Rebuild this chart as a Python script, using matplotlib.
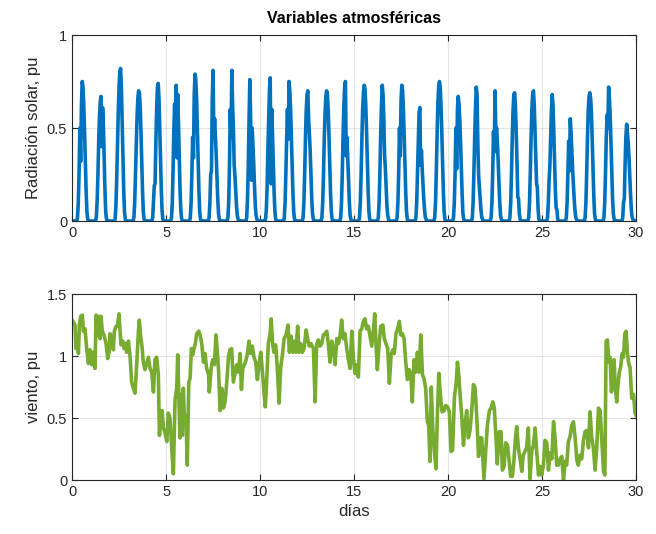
import numpy as np
import matplotlib.pyplot as plt

solar_hours = list(range(7, 22))
solar_days = [
    [0.02, 0.10, 0.26, 0.50, 0.32, 0.62, 0.75, 0.72, 0.62, 0.48, 0.32, 0.16, 0.05, 0.01, 0],
    [0.02, 0.10, 0.24, 0.42, 0.56, 0.64, 0.67, 0.40, 0.61, 0.52, 0.34, 0.17, 0.05, 0.01, 0],
    [0.01, 0.08, 0.22, 0.40, 0.58, 0.72, 0.80, 0.82, 0.72, 0.54, 0.34, 0.16, 0.05, 0.01, 0],
    [0.02, 0.10, 0.25, 0.42, 0.56, 0.66, 0.70, 0.69, 0.62, 0.48, 0.32, 0.16, 0.05, 0.01, 0],
    [0.02, 0.10, 0.19, 0.20, 0.42, 0.60, 0.72, 0.74, 0.66, 0.50, 0.33, 0.16, 0.05, 0.01, 0],
    [0.02, 0.10, 0.28, 0.50, 0.63, 0.35, 0.73, 0.34, 0.68, 0.50, 0.32, 0.15, 0.05, 0.01, 0],
    [0.02, 0.10, 0.26, 0.45, 0.34, 0.68, 0.79, 0.76, 0.66, 0.50, 0.33, 0.16, 0.05, 0.01, 0],
    [0.02, 0.10, 0.25, 0.27, 0.65, 0.81, 0.45, 0.55, 0.46, 0.36, 0.24, 0.12, 0.04, 0.01, 0],
    [0.02, 0.10, 0.30, 0.60, 0.45, 0.81, 0.62, 0.50, 0.30, 0.24, 0.16, 0.08, 0.03, 0.01, 0],
    [0.02, 0.12, 0.30, 0.55, 0.76, 0.55, 0.22, 0.50, 0.40, 0.30, 0.18, 0.08, 0.03, 0.01, 0],
    [0.01, 0.06, 0.18, 0.38, 0.55, 0.70, 0.77, 0.20, 0.60, 0.45, 0.30, 0.15, 0.05, 0.01, 0],
    [0.02, 0.10, 0.26, 0.45, 0.60, 0.44, 0.75, 0.70, 0.60, 0.45, 0.30, 0.15, 0.05, 0.01, 0],
    [0.02, 0.10, 0.26, 0.45, 0.60, 0.68, 0.70, 0.55, 0.47, 0.38, 0.25, 0.12, 0.04, 0.01, 0],
    [0.02, 0.10, 0.25, 0.44, 0.58, 0.67, 0.70, 0.68, 0.60, 0.46, 0.30, 0.15, 0.05, 0.01, 0],
    [0.02, 0.10, 0.26, 0.46, 0.62, 0.72, 0.75, 0.35, 0.45, 0.34, 0.22, 0.10, 0.03, 0.01, 0],
    [0.02, 0.10, 0.25, 0.44, 0.60, 0.69, 0.73, 0.71, 0.62, 0.48, 0.32, 0.16, 0.05, 0.01, 0],
    [0.02, 0.10, 0.26, 0.46, 0.62, 0.73, 0.68, 0.55, 0.35, 0.28, 0.18, 0.08, 0.03, 0.01, 0],
    [0.02, 0.10, 0.26, 0.50, 0.35, 0.65, 0.73, 0.70, 0.60, 0.46, 0.30, 0.15, 0.05, 0.01, 0],
    [0.02, 0.10, 0.26, 0.44, 0.58, 0.61, 0.30, 0.38, 0.28, 0.20, 0.12, 0.06, 0.02, 0.01, 0],
    [0.02, 0.10, 0.26, 0.46, 0.63, 0.72, 0.75, 0.72, 0.62, 0.48, 0.32, 0.16, 0.05, 0.01, 0],
    [0.02, 0.10, 0.26, 0.50, 0.28, 0.60, 0.67, 0.63, 0.54, 0.42, 0.28, 0.14, 0.04, 0.01, 0],
    [0.02, 0.10, 0.26, 0.45, 0.60, 0.72, 0.68, 0.42, 0.25, 0.18, 0.12, 0.06, 0.02, 0.01, 0],
    [0.02, 0.10, 0.26, 0.48, 0.37, 0.70, 0.47, 0.50, 0.42, 0.32, 0.20, 0.10, 0.03, 0.01, 0],
    [0.02, 0.10, 0.26, 0.45, 0.60, 0.68, 0.69, 0.62, 0.48, 0.32, 0.13, 0.12, 0.04, 0.01, 0],
    [0.02, 0.10, 0.26, 0.45, 0.60, 0.68, 0.70, 0.63, 0.48, 0.32, 0.20, 0.18, 0.06, 0.01, 0],
    [0.02, 0.10, 0.22, 0.30, 0.45, 0.60, 0.68, 0.62, 0.48, 0.32, 0.16, 0.07, 0.06, 0.01, 0],
    [0.02, 0.10, 0.26, 0.43, 0.27, 0.55, 0.48, 0.38, 0.28, 0.20, 0.12, 0.06, 0.02, 0.01, 0],
    [0.02, 0.10, 0.26, 0.45, 0.60, 0.67, 0.69, 0.66, 0.58, 0.44, 0.28, 0.14, 0.04, 0.01, 0],
    [0.02, 0.10, 0.26, 0.45, 0.57, 0.50, 0.72, 0.66, 0.56, 0.42, 0.26, 0.12, 0.04, 0.01, 0],
    [0.02, 0.10, 0.12, 0.30, 0.45, 0.52, 0.47, 0.42, 0.34, 0.24, 0.14, 0.06, 0.02, 0.01, 0],
]

# viento: (dia, valor)
wind_t = [
    0.00, 0.16, 0.21, 0.28, 0.34, 0.39, 0.46, 0.55, 0.60, 0.69, 0.78, 0.87, 0.96, 1.05, 1.13,
    1.22, 1.28, 1.35, 1.42, 1.49, 1.54, 1.61, 1.70, 1.81, 1.90, 1.97, 2.02, 2.11, 2.20, 2.25,
    2.34, 2.41, 2.50, 2.55, 2.61, 2.70, 2.77, 2.84, 2.91, 3.00, 3.09, 3.17, 3.26, 3.35, 3.44,
    3.53, 3.58, 3.65, 3.72, 3.79, 3.88, 3.97, 4.06, 4.15, 4.24, 4.33, 4.41, 4.50, 4.59, 4.65,
    4.72, 4.79, 4.86, 4.95, 5.04, 5.12, 5.21, 5.30, 5.39, 5.48, 5.57, 5.62, 5.69, 5.74, 5.80,
    5.87, 5.92, 5.99, 6.06, 6.13, 6.21, 6.28, 6.35, 6.42, 6.49, 6.56, 6.63, 6.74, 6.81, 6.90,
    6.99, 7.07, 7.16, 7.26, 7.30, 7.40, 7.48, 7.57, 7.66, 7.73, 7.80, 7.87, 7.96, 8.05, 8.14,
    8.23, 8.32, 8.40, 8.49, 8.58, 8.67, 8.76, 8.85, 8.94, 9.01, 9.08, 9.17, 9.26, 9.34, 9.41,
    9.50, 9.59, 9.68, 9.77, 9.86, 9.95, 10.04, 10.13, 10.21, 10.28, 10.35, 10.44, 10.53, 10.59,
    10.67, 10.74, 10.83, 10.92, 11.01, 11.10, 11.19, 11.28, 11.38, 11.49, 11.56, 11.65, 11.74,
    11.83, 11.91, 12.00, 12.07, 12.16, 12.25, 12.34, 12.45, 12.53, 12.62, 12.71, 12.84, 12.93,
    13.01, 13.10, 13.19, 13.28, 13.37, 13.46, 13.55, 13.63, 13.72, 13.81, 13.90, 13.99, 14.08,
    14.17, 14.26, 14.34, 14.43, 14.52, 14.61, 14.70, 14.79, 14.88, 14.96, 15.05, 15.14, 15.23,
    15.32, 15.41, 15.50, 15.58, 15.67, 15.76, 15.85, 15.94, 16.03, 16.10, 16.17, 16.24, 16.33,
    16.42, 16.53, 16.61, 16.70, 16.79, 16.88, 16.97, 17.06, 17.14, 17.23, 17.32, 17.41, 17.48,
    17.57, 17.66, 17.75, 17.84, 17.93, 18.02, 18.10, 18.19, 18.28, 18.37, 18.46, 18.55, 18.64,
    18.72, 18.81, 18.90, 18.97, 19.04, 19.11, 19.18, 19.27, 19.36, 19.43, 19.51, 19.59, 19.68,
    19.79, 19.87, 19.98, 20.07, 20.16, 20.24, 20.34, 20.43, 20.50, 20.57, 20.64, 20.73, 20.82,
    20.90, 20.99, 21.08, 21.17, 21.26, 21.35, 21.44, 21.53, 21.62, 21.70, 21.79, 21.91, 22.02,
    22.09, 22.20, 22.29, 22.38, 22.46, 22.55, 22.62, 22.73, 22.82, 22.89, 22.98, 23.07, 23.16,
    23.24, 23.33, 23.42, 23.50, 23.57, 23.65, 23.74, 23.83, 23.92, 24.00, 24.09, 24.18, 24.27,
    24.36, 24.45, 24.54, 24.63, 24.72, 24.81, 24.89, 24.98, 25.07, 25.16, 25.25, 25.34, 25.43,
    25.52, 25.61, 25.69, 25.78, 25.87, 25.96, 26.05, 26.14, 26.23, 26.31, 26.40, 26.49, 26.58,
    26.67, 26.76, 26.85, 26.93, 27.02, 27.11, 27.20, 27.29, 27.38, 27.47, 27.55, 27.64, 27.73,
    27.82, 27.91, 28.00, 28.09, 28.18, 28.27, 28.34, 28.41, 28.48, 28.55, 28.62, 28.69, 28.76,
    28.83, 28.90, 28.97, 29.04, 29.11, 29.18, 29.26, 29.33, 29.40, 29.47, 29.54, 29.61, 29.68,
    29.77, 29.86, 29.95, 30.00,
]
wind_v = [
    1.29, 1.25, 1.06, 1.14, 1.02, 1.25, 1.32, 1.33, 1.20, 1.22, 1.06, 0.94, 1.05, 0.93, 1.03,
    0.90, 1.33, 1.17, 1.32, 1.14, 1.32, 1.20, 1.17, 1.10, 0.98, 1.03, 1.18, 1.14, 1.05, 1.20,
    1.24, 1.24, 1.34, 1.21, 1.09, 1.12, 1.06, 1.10, 1.03, 1.12, 0.99, 0.79, 0.74, 0.70, 0.93,
    1.20, 1.29, 1.16, 1.08, 0.95, 0.89, 0.94, 0.99, 0.90, 0.87, 0.71, 0.97, 0.99, 0.85, 0.36,
    0.55, 0.56, 0.42, 0.38, 0.31, 0.54, 0.50, 0.26, 0.05, 0.65, 0.74, 1.01, 0.63, 0.34, 0.69,
    0.36, 0.74, 0.44, 0.52, 0.12, 0.79, 0.82, 1.06, 1.01, 1.06, 1.10, 1.18, 1.20, 1.17, 1.10,
    0.95, 1.02, 0.90, 0.85, 0.71, 0.90, 0.97, 0.93, 1.17, 1.03, 0.87, 0.56, 0.74, 0.58, 0.63,
    0.79, 0.99, 1.05, 1.06, 0.79, 0.86, 0.93, 0.87, 1.02, 0.73, 0.90, 0.93, 0.97, 1.03, 1.12,
    1.02, 1.08, 0.99, 0.95, 0.81, 0.94, 1.03, 0.87, 0.71, 0.59, 0.79, 1.10, 1.17, 1.30,
    1.10, 1.03, 1.09, 0.90, 0.62, 0.91, 1.01, 1.14, 1.17, 1.25, 1.03, 1.16, 1.03,
    1.12, 1.03, 1.24, 1.03, 1.10, 1.03, 1.06, 1.21, 1.14, 1.08, 1.10, 1.06, 0.63,
    1.09, 1.13, 1.08, 1.10, 1.17, 1.18, 1.20, 1.10, 0.95, 1.12, 1.06, 0.93, 1.14,
    1.10, 1.17, 1.29, 1.14, 1.18, 1.06, 0.97, 0.90, 1.20, 0.99, 0.86, 0.93, 0.83,
    1.20, 1.22, 1.28, 1.30, 1.22, 1.24, 1.16, 1.08, 1.21, 1.34, 1.09, 0.89, 1.09,
    1.24, 1.25, 1.14, 1.10, 1.06, 0.78, 1.01, 1.05, 1.02, 1.18, 1.22, 1.28, 1.17,
    1.18, 1.14, 0.95, 0.81, 0.89, 0.85, 0.63, 0.97, 0.87, 1.03, 0.87, 1.17, 0.85,
    0.82, 0.74, 0.47, 0.44, 0.15, 0.75, 0.44, 0.23, 0.09, 0.52, 0.86, 0.69, 0.55,
    0.56, 0.60, 0.59, 0.55, 0.23, 0.24, 0.67, 0.78, 0.95, 0.85, 0.69, 0.51, 0.28,
    0.44, 0.56, 0.34, 0.40, 0.56, 0.77, 0.74, 0.50, 0.19, 0.34, 0.34, 0.01, 0.28,
    0.44, 0.56, 0.58, 0.63, 0.58, 0.34, 0.13, 0.39, 0.39, 0.08, 0.11, 0.30, 0.28,
    0.17, 0.03, 0.03, 0.15, 0.31, 0.43, 0.26, 0.17, 0.07, 0.20, 0.23, 0.26, 0.42,
    0.01, 0.23, 0.28, 0.42, 0.22, 0.04, 0.11, 0.04, 0.12, 0.32, 0.30, 0.08, 0.22,
    0.17, 0.47, 0.34, 0.12, 0.12, 0.17, 0.19, 0.00, 0.15, 0.12, 0.31, 0.35, 0.44,
    0.47, 0.34, 0.16, 0.12, 0.20, 0.17, 0.32, 0.39, 0.40, 0.26, 0.55, 0.35, 0.26,
    0.08, 0.26, 0.58, 0.56, 0.31, 0.07, 0.04, 1.12, 1.13, 0.95, 0.99, 0.71, 0.82,
    0.97, 0.74, 0.63, 0.77, 0.87, 0.91, 1.02, 0.99, 1.18, 1.20, 1.03, 0.94, 0.91,
    0.66, 0.69, 0.54, 0.52,
]

# serie horaria de radiacion
solar_t = []
solar_v = []
for d, vals in enumerate(solar_days):
    for h in range(24):
        solar_t.append(d + h / 24)
        solar_v.append(vals[h - 7] if h in solar_hours else 0.0)
solar_t.append(30)
solar_v.append(0.0)

blue = '#0072BD'
green = '#77AC30'
axcol = '#262626'

plt.rcParams['font.family'] = ['Liberation Sans', 'DejaVu Sans']
plt.rcParams['font.size'] = 10.5

fig = plt.figure(figsize=(6.56, 5.34), dpi=100)
ax1 = fig.add_axes([0.1098, 0.5861, 0.8598, 0.3483])
ax2 = fig.add_axes([0.1098, 0.1011, 0.8598, 0.3483])

ax1.plot(solar_t, solar_v, color=blue, linewidth=2.6, solid_joinstyle='round')
ax2.plot(wind_t, wind_v, color=green, linewidth=2.6, solid_joinstyle='round')

for ax in (ax1, ax2):
    ax.set_xlim(0, 30)
    ax.set_xticks(range(0, 31, 5))
    ax.grid(True, color='#262626', alpha=0.12, linewidth=0.8)
    ax.tick_params(direction='in', top=True, right=True, colors=axcol,
                   length=4, width=0.8, labelsize=10.5)
    for s in ax.spines.values():
        s.set_color(axcol)
        s.set_linewidth(0.8)
    ax.set_axisbelow(True)

ax1.set_ylim(0, 1)
ax1.set_yticks([0, 0.5, 1])
ax1.set_yticklabels(['0', '0.5', '1'])
ax1.set_ylabel('Radiación solar, pu', fontsize=12, color=axcol)
ax1.set_title('Variables atmosféricas', fontsize=11.5, fontweight='bold', pad=9)

ax2.set_ylim(0, 1.5)
ax2.set_yticks([0, 0.5, 1, 1.5])
ax2.set_yticklabels(['0', '0.5', '1', '1.5'])
ax2.set_ylabel('viento, pu', fontsize=12, color=axcol)
ax2.set_xlabel('días', fontsize=12, color=axcol)

fig.savefig('out.png', dpi=100)
